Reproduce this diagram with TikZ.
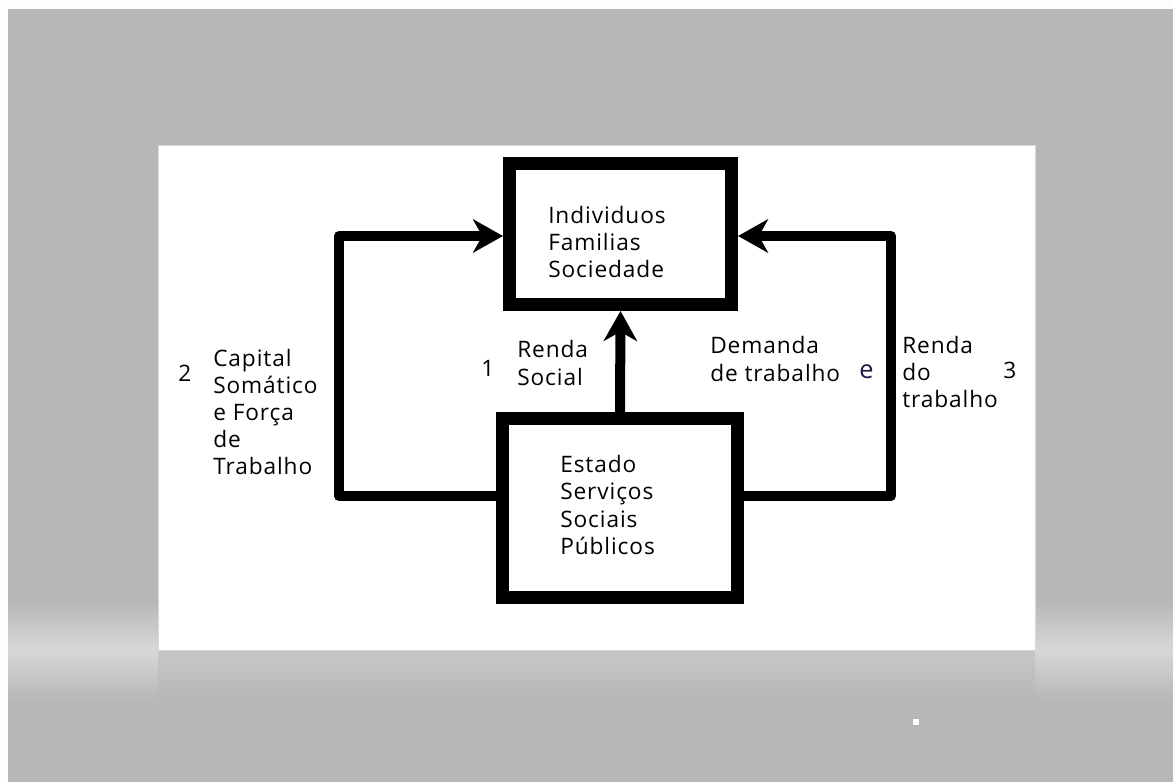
\documentclass[tikz,border=0pt]{standalone}
\usepackage{fontspec}
\setmainfont{Open Sans}[LetterSpace=4]
\usetikzlibrary{arrows.meta}
\definecolor{bggray}{HTML}{B6B8B7}
\definecolor{bglight}{HTML}{D6D7D6}
\definecolor{edgewhite}{HTML}{FDFDFC}
\definecolor{navy}{HTML}{1A1A4A}
\tikzset{
  lbl/.style={anchor=west, inner sep=0pt, align=left, font=\fontsize{17pt}{20.3pt}\selectfont},
  boxnode/.style={draw, line width=9.75pt, fill=white, inner sep=0pt},
  flow/.style={line width=7.5pt, line join=round, -{Stealth[length=22.5pt, width=25pt, inset=7pt]}},
}
\begin{document}
\begin{tikzpicture}[x=0.75pt, y=-0.75pt]
\useasboundingbox (0,0) rectangle (1173,782);
% background
\fill[edgewhite] (0,0) rectangle (1173,782);
\fill[bggray] (8,9) rectangle (1173,782);
\shade[top color=bggray, bottom color=bglight] (8,600) rectangle (158,650);
\shade[top color=bglight, bottom color=bggray] (8,650) rectangle (158,700);
\shade[top color=bggray, bottom color=bglight] (1035,600) rectangle (1173,650);
\shade[top color=bglight, bottom color=bggray] (1035,650) rectangle (1173,700);
\shade[top color=bglight!50!bggray, bottom color=bggray] (158,650) rectangle (1035,700);
\fill[white, draw=bglight, line width=0.75pt] (158,145) rectangle (1035,650);
\fill[white] (913,719) rectangle (919,725);
% boxes
\node[boxnode, minimum width=166.5pt, minimum height=105.75pt] (ind) at (620.5,234) {};
\node[boxnode, minimum width=176.25pt, minimum height=134.25pt] (est) at (620,508) {};
% coordinates of loop corners
\coordinate (lb) at (339,496);
\coordinate (lt) at (339,236);
\coordinate (rb) at (891,496);
\coordinate (rt) at (891,236);
% connectors
\draw[flow] (est.north) -- (ind.south);
\draw[flow] (est.west |- lb) -- (lb) -- (lt) -- (ind.west |- lt);
\draw[flow] (est.east |- rb) -- (rb) -- (rt) -- (ind.east |- rt);
% texts
\node[lbl] (tind) at (548,242) {Individuos\\Familias\\Sociedade};
\node[lbl] (test) at (560,505) {Estado\\Serviços\\Sociais\\Públicos};
\node[lbl] (n2) at (178,373) {2};
\node[lbl] (tcap) at (213,412) {Capital\\Somático\\e Força\\de\\Trabalho};
\node[lbl] (n1) at (481,368) {1};
\node[lbl] (tren) at (517,363) {Renda\\Social};
\node[lbl] (tdem) at (710,359) {Demanda\\de trabalho};
\node[lbl, text=navy, font=\fontsize{19pt}{20pt}\selectfont] (te) at (859,372) {e};
\node[lbl] (trt) at (902,372) {Renda\\do\\trabalho};
\node[lbl] (n3) at (1003,370) {3};
\end{tikzpicture}
\end{document}
